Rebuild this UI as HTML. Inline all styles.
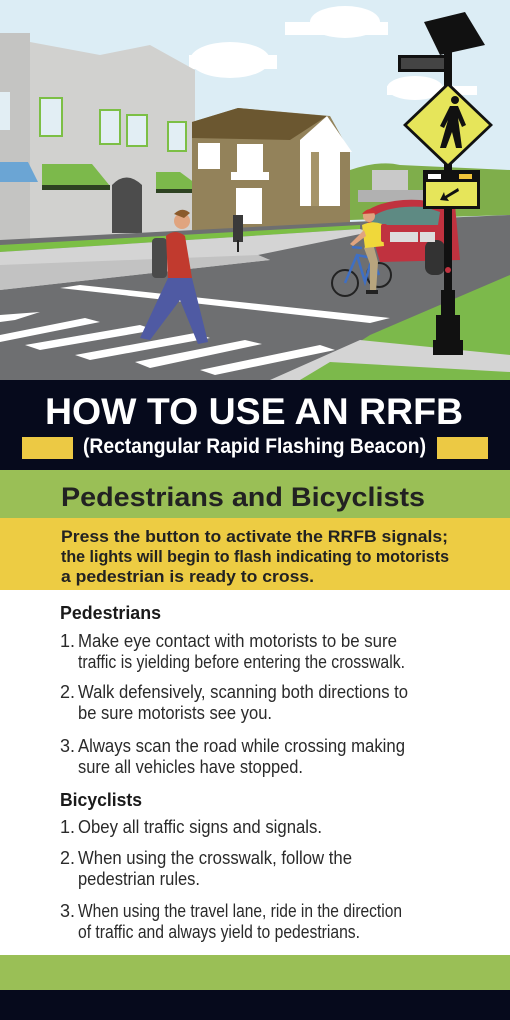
<!DOCTYPE html>
<html><head><meta charset="utf-8"><style>
html,body{margin:0;padding:0;width:510px;height:1020px;overflow:hidden;background:#fff}
svg{display:block}
.t{font-family:"Liberation Sans",sans-serif}
</style></head><body>
<svg width="510" height="1020" viewBox="0 0 510 1020">
<g>
 <rect x="0" y="0" width="510" height="380" fill="#dcedf5"/>
 <g fill="#fff">
  <ellipse cx="230" cy="60" rx="40" ry="18"/><rect x="189" y="55" width="88" height="14"/>
  <ellipse cx="345" cy="22" rx="35" ry="16"/><rect x="285" y="22" width="103" height="13"/>
  <ellipse cx="415" cy="88" rx="28" ry="12"/><rect x="387" y="86" width="90" height="9"/>
 </g>
 <path d="M350 170 Q380 160 400 165 L510 170 L510 215 L350 220 Z" fill="#7fae4b"/>
 <rect x="372" y="170" width="36" height="22" fill="#c9c9c9"/>
 <rect x="358" y="190" width="70" height="12" fill="#b1b1b1"/>
 <path d="M0 33 L30 42 L100 55 L150 45 L195 70 L195 240 L0 240 Z" fill="#d1d1cf"/>
 <rect x="0" y="33" width="30" height="210" fill="#c4c4c2"/>
 <g fill="#e2eef4" stroke="#7cbf45" stroke-width="2">
  <rect x="40" y="98" width="22" height="38"/><rect x="100" y="110" width="20" height="34"/><rect x="127" y="115" width="20" height="31"/><rect x="168" y="122" width="18" height="29"/>
 </g>
 <rect x="0" y="92" width="10" height="38" fill="#e2eef4"/>
 <path d="M0 162 L28 162 L38 182 L0 182 Z" fill="#6ba5d4"/>
 <path d="M42 164 L92 164 L110 186 L42 186 Z" fill="#7cb94b"/><rect x="42" y="185" width="68" height="5" fill="#2e4222"/>
 <path d="M156 172 L180 172 L203 189 L156 189 Z" fill="#7cb94b"/><rect x="156" y="189" width="48" height="4" fill="#2e4222"/>
 <path d="M112 233 L112 185 Q126 170 142 185 L142 233 Z" fill="#4c4c4c"/>
 <path d="M192 122 L238 108 L330 116 L350 152 L350 226 L192 232 Z" fill="#93825a"/>
 <path d="M192 122 L238 108 L327 116 L290 140 L192 138 Z" fill="#6b5730"/>
 <path d="M300 140 L327 116 L352 152 L340 152 L340 206 L300 206 Z" fill="#fff"/>
 <rect x="311" y="152" width="8" height="54" fill="#a59469"/>
 <g fill="#fff"><rect x="198" y="143" width="22" height="26"/><rect x="237" y="144" width="26" height="28"/><rect x="231" y="172" width="38" height="8"/><rect x="236" y="188" width="26" height="36"/></g>
 <path d="M0 240 L350 222 L510 215 L510 380 L0 380 Z" fill="#6e6f71"/>
 <path d="M0 245 L360 225 L360 229 L0 252 Z" fill="#7cbf45"/>
 <path d="M0 252 L360 229 L370 232 L258 255 L270 260 L0 290 Z" fill="#d4d4d4"/>
 <path d="M0 265 L258 255 L270 260 L0 290 Z" fill="#c2c2c2"/>
 <g fill="#fff">
  <path d="M60 288 L80 285 L390 318 L370 323 Z"/>
  <path d="M0 315 L40 312 L15 320 L0 322 Z"/><path d="M0 335 L85 318 L100 322 L0 342 Z"/>
  <path d="M25 345 L140 325 L155 330 L40 350 Z"/><path d="M75 355 L195 333 L210 338 L90 360 Z"/>
  <path d="M135 362 L245 340 L262 344 L150 368 Z"/><path d="M200 370 L320 345 L335 350 L215 375 Z"/>
 </g>
 <path d="M370 335 L510 275 L510 380 L300 380 Z" fill="#7cb94b"/>
 <path d="M270 380 L360 340 L510 355 L510 372 L330 362 L300 380 Z" fill="#d4d4d4"/>
 <rect x="233" y="215" width="10" height="27" fill="#3a3a3a"/><rect x="237" y="240" width="2" height="12" fill="#222"/>
 <g>
  <path d="M365 212 Q385 198 420 200 L455 205 L460 260 L380 262 Z" fill="#c0323f"/>
  <path d="M375 215 Q392 205 425 207 L440 212 L438 225 L370 225 Z" fill="#5e8a83"/>
  <rect x="425" y="240" width="20" height="35" rx="8" fill="#333"/>
  <rect x="390" y="232" width="28" height="10" fill="#ddd"/><rect x="420" y="232" width="15" height="10" fill="#ddd"/>
 </g>
 <g>
  <g fill="none" stroke="#222" stroke-width="2">
   <circle cx="345" cy="283" r="13"/><circle cx="379" cy="275" r="12"/>
  </g>
  <path d="M345 283 L357 255 L372 258 L379 275 M357 255 L365 282 L372 258 M352 247 L362 248" fill="none" stroke="#3f6fc3" stroke-width="2.5"/>
  <path d="M372 240 L378 262 L376 292 L370 292 L370 264 L364 248 Z" fill="#b8a57e"/>
  <path d="M362 225 Q372 220 382 224 L384 246 L365 248 Z" fill="#f0d83a"/>
  <rect x="381" y="224" width="6" height="18" rx="2" fill="#c0323f"/>
  <path d="M364 230 L350 244 L353 246 L366 236 Z" fill="#e0a47f"/>
  <circle cx="369" cy="216" r="6" fill="#e0a47f"/>
  <path d="M362 214 Q369 205 377 213 Z" fill="#cc3333"/>
  <rect x="366" y="290" width="12" height="4" fill="#222"/>
 </g>
 <g>
  <circle cx="182" cy="221" r="8" fill="#e0a47f"/><path d="M174 214 Q182 206 190 213 L184 218 Z" fill="#8b5a2b"/>
  <rect x="152" y="238" width="15" height="40" rx="4" fill="#4a4a4a"/>
  <path d="M166 236 Q175 228 185 236 L192 278 L168 280 Z" fill="#c13a2e"/>
  <path d="M168 278 L192 278 L208 342 L198 344 L180 300 L150 340 L140 338 L160 295 Z" fill="#4f5aa3"/>
 </g>
 <g>
  <path d="M424 22 L465 12 L485 45 L440 55 Z" fill="#111"/>
  <rect x="398" y="55" width="50" height="17" fill="#111"/><rect x="401" y="58" width="44" height="11" fill="#444"/>
  <rect x="444" y="50" width="8" height="300" fill="#111"/>
  <path d="M448 82 L493 125 L448 168 L403 125 Z" fill="#111"/>
  <path d="M448 86 L489 125 L448 164 L407 125 Z" fill="#e6e55a"/>
  <circle cx="455" cy="100" r="4" fill="#111"/><path d="M450 106 L458 106 L466 125 L462 127 L458 118 L462 148 L456 148 L452 132 L446 148 L440 148 L448 120 L444 128 L440 126 Z" fill="#111"/>
  <rect x="423" y="170" width="57" height="39" fill="#111"/>
  <rect x="428" y="174" width="13" height="5" fill="#fff"/><rect x="459" y="174" width="13" height="5" fill="#f0c33a"/>
  <rect x="426" y="182" width="51" height="24" fill="#e6e55a"/>
  <path d="M440 200 L444 192 L445 196 L458 188 L459 191 L447 198 L449 201 Z" fill="#111"/>
  <circle cx="448" cy="270" r="3" fill="#c0323f"/>
  <rect x="441" y="290" width="14" height="25" fill="#111"/><rect x="436" y="315" width="24" height="25" fill="#111"/><rect x="433" y="340" width="30" height="15" fill="#111"/>
 </g>
</g>
<rect x="0" y="380" width="510" height="90" fill="#060a1c"/>
<text class="t" x="45" y="424" font-size="37" font-weight="700" fill="#fff" textLength="418" lengthAdjust="spacingAndGlyphs">HOW TO USE AN RRFB</text>
<rect x="22" y="437" width="51" height="22" fill="#ecc944"/>
<rect x="437" y="437" width="51" height="22" fill="#ecc944"/>
<text class="t" x="83" y="453" font-size="21" font-weight="700" fill="#fff" textLength="343" lengthAdjust="spacingAndGlyphs">(Rectangular Rapid Flashing Beacon)</text>
<rect x="0" y="470" width="510" height="48" fill="#9abf56"/>
<text class="t" x="61" y="506" font-size="27" font-weight="700" fill="#222" textLength="364" lengthAdjust="spacingAndGlyphs">Pedestrians and Bicyclists</text>
<rect x="0" y="518" width="510" height="72" fill="#edcc43"/>
<g class="t" font-size="17" font-weight="700" fill="#222">
 <text x="61" y="542" textLength="387" lengthAdjust="spacingAndGlyphs">Press the button to activate the RRFB signals;</text>
 <text x="61" y="562" textLength="388" lengthAdjust="spacingAndGlyphs">the lights will begin to flash indicating to motorists</text>
 <text x="61" y="582" textLength="253" lengthAdjust="spacingAndGlyphs">a pedestrian is ready to cross.</text>
</g>
<g class="t" fill="#2a2a2a" font-size="18">
 <text x="60" y="619" font-weight="700" fill="#1a1a1a" textLength="101" lengthAdjust="spacingAndGlyphs">Pedestrians</text>
 <text x="60" y="647">1.</text><text x="78" y="647" textLength="319" lengthAdjust="spacingAndGlyphs">Make eye contact with motorists to be sure</text>
 <text x="78" y="668" textLength="327" lengthAdjust="spacingAndGlyphs">traffic is yielding before entering the crosswalk.</text>
 <text x="60" y="698">2.</text><text x="78" y="698" textLength="330" lengthAdjust="spacingAndGlyphs">Walk defensively, scanning both directions to</text>
 <text x="78" y="719" textLength="194" lengthAdjust="spacingAndGlyphs">be sure motorists see you.</text>
 <text x="60" y="752">3.</text><text x="78" y="752" textLength="327" lengthAdjust="spacingAndGlyphs">Always scan the road while crossing making</text>
 <text x="78" y="773" textLength="225" lengthAdjust="spacingAndGlyphs">sure all vehicles have stopped.</text>
 <text x="60" y="806" font-weight="700" fill="#1a1a1a" textLength="82" lengthAdjust="spacingAndGlyphs">Bicyclists</text>
 <text x="60" y="833">1.</text><text x="78" y="833" textLength="244" lengthAdjust="spacingAndGlyphs">Obey all traffic signs and signals.</text>
 <text x="60" y="864">2.</text><text x="78" y="864" textLength="274" lengthAdjust="spacingAndGlyphs">When using the crosswalk, follow the</text>
 <text x="78" y="885" textLength="122" lengthAdjust="spacingAndGlyphs">pedestrian rules.</text>
 <text x="60" y="917">3.</text><text x="78" y="917" textLength="324" lengthAdjust="spacingAndGlyphs">When using the travel lane, ride in the direction</text>
 <text x="78" y="938" textLength="282" lengthAdjust="spacingAndGlyphs">of traffic and always yield to pedestrians.</text>
</g>
<rect x="0" y="955" width="510" height="35" fill="#9abf56"/>
<rect x="0" y="990" width="510" height="30" fill="#060a1c"/>
</svg>
</body></html>
